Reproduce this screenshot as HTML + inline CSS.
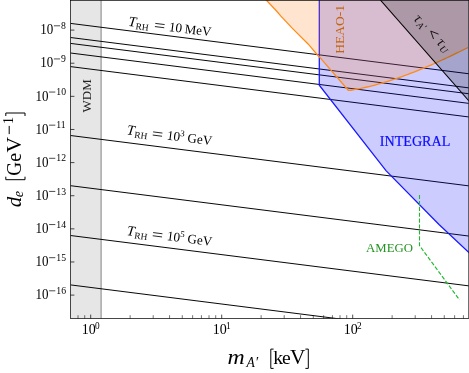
<!DOCTYPE html>
<html><head><meta charset="utf-8"><title>plot</title>
<style>
html,body{margin:0;padding:0;background:#fff;}
svg{display:block;}
text{font-family:"Liberation Serif",serif;}
.i{font-style:italic;}
</style></head><body>
<svg width="469" height="373" viewBox="0 0 469 373">
<rect x="0" y="0" width="469" height="373" fill="#fff"/>
<g style="will-change:transform">
<defs><clipPath id="c"><rect x="70.5" y="0.35" width="398.3" height="318.15"/></clipPath></defs>
<g clip-path="url(#c)">
<rect x="70.5" y="0.35" width="30.599999999999994" height="318.15" fill="#e6e6e6"/>
<line x1="101.1" y1="0.35" x2="101.1" y2="318.5" stroke="#b0b0b0" stroke-width="1.7"/>
<line x1="70.5" y1="23.4" x2="468.8" y2="73.76" stroke="#000" stroke-width="0.98"/>
<line x1="70.5" y1="37.5" x2="468.8" y2="87.86" stroke="#000" stroke-width="0.98"/>
<line x1="70.5" y1="43.4" x2="468.8" y2="93.76" stroke="#000" stroke-width="0.98"/>
<line x1="70.5" y1="53.0" x2="468.8" y2="103.36" stroke="#000" stroke-width="0.98"/>
<line x1="70.5" y1="66.6" x2="468.8" y2="116.96" stroke="#000" stroke-width="0.98"/>
<line x1="70.5" y1="135.5" x2="468.8" y2="185.86" stroke="#000" stroke-width="0.98"/>
<line x1="70.5" y1="185.7" x2="468.8" y2="236.06" stroke="#000" stroke-width="0.98"/>
<line x1="70.5" y1="235.5" x2="468.8" y2="285.86" stroke="#000" stroke-width="0.98"/>
<line x1="70.5" y1="284.9" x2="468.8" y2="335.26" stroke="#000" stroke-width="0.98"/>
<polygon points="319.3,-2 319.3,85.2 386,170.6 439,224.5 470,253.5 470,-2" fill="rgb(0,0,255)" fill-opacity="0.2"/>
<polyline points="319.3,-2 319.3,85.2 386,170.6 439,224.5 470,253.5" fill="none" stroke="#1a1aff" stroke-width="1.3"/>
<polygon points="265.2,-1 266.2,0 276.1,10.5 280.9,16.1 292.2,28.1 308.3,44.2 317.9,55.5 319.4,56.9 348.3,90.3 351.0,90.24 354.0,89.72 357.0,89.16 360.0,88.56 363.0,87.93 366.0,87.25 369.0,86.55 372.0,85.8 375.0,85.02 378.0,84.21 381.0,83.36 384.0,82.48 387.0,81.57 390.0,80.63 393.0,79.66 396.0,78.65 399.0,77.62 402.0,76.56 405.0,75.47 408.0,74.36 411.0,73.22 414.0,72.05 417.0,70.86 420.0,69.64 423.0,68.41 426.0,67.15 429.0,65.86 432.0,64.56 435.0,63.24 438.0,61.89 441.0,60.53 444.0,59.15 447.0,57.75 450.0,56.34 453.0,54.91 456.0,53.46 459.0,52.0 462.0,50.53 465.0,49.04 468.0,47.54 470,-2" fill="rgb(255,127,14)" fill-opacity="0.2"/>
<polyline points="265.2,-1 266.2,0 276.1,10.5 280.9,16.1 292.2,28.1 308.3,44.2 317.9,55.5 319.4,56.9 348.3,90.3 351.0,90.24 354.0,89.72 357.0,89.16 360.0,88.56 363.0,87.93 366.0,87.25 369.0,86.55 372.0,85.8 375.0,85.02 378.0,84.21 381.0,83.36 384.0,82.48 387.0,81.57 390.0,80.63 393.0,79.66 396.0,78.65 399.0,77.62 402.0,76.56 405.0,75.47 408.0,74.36 411.0,73.22 414.0,72.05 417.0,70.86 420.0,69.64 423.0,68.41 426.0,67.15 429.0,65.86 432.0,64.56 435.0,63.24 438.0,61.89 441.0,60.53 444.0,59.15 447.0,57.75 450.0,56.34 453.0,54.91 456.0,53.46 459.0,52.0 462.0,50.53 465.0,49.04 468.0,47.54" fill="none" stroke="#ff8c1a" stroke-width="1.3"/>
<polygon points="380.3,0 470,102.1 470,-2" fill="#000" fill-opacity="0.2"/>
<line x1="380.3" y1="0" x2="470" y2="102.1" stroke="#000" stroke-width="1.1"/>
<polyline points="419.5,195 419.5,245.6 459.6,300" fill="none" stroke="#1eb92c" stroke-width="1.1" stroke-dasharray="4.1,1.8"/>
</g>
<line x1="70.5" y1="295.10" x2="74.4" y2="295.10" stroke="#000" stroke-width="0.7"/>
<text x="56.30" y="293.90" font-size="9.7">16</text>
<line x1="49.10" y1="290.80" x2="55.30" y2="290.80" stroke="#000" stroke-width="0.7"/>
<text x="35.40" y="299.30" font-size="14" textLength="13.0" lengthAdjust="spacingAndGlyphs">10</text>
<line x1="70.5" y1="261.98" x2="74.4" y2="261.98" stroke="#000" stroke-width="0.7"/>
<text x="56.30" y="260.78" font-size="9.7">15</text>
<line x1="49.10" y1="257.68" x2="55.30" y2="257.68" stroke="#000" stroke-width="0.7"/>
<text x="35.40" y="266.18" font-size="14" textLength="13.0" lengthAdjust="spacingAndGlyphs">10</text>
<line x1="70.5" y1="228.85" x2="74.4" y2="228.85" stroke="#000" stroke-width="0.7"/>
<text x="56.30" y="227.65" font-size="9.7">14</text>
<line x1="49.10" y1="224.55" x2="55.30" y2="224.55" stroke="#000" stroke-width="0.7"/>
<text x="35.40" y="233.05" font-size="14" textLength="13.0" lengthAdjust="spacingAndGlyphs">10</text>
<line x1="70.5" y1="195.72" x2="74.4" y2="195.72" stroke="#000" stroke-width="0.7"/>
<text x="56.30" y="194.53" font-size="9.7">13</text>
<line x1="49.10" y1="191.42" x2="55.30" y2="191.42" stroke="#000" stroke-width="0.7"/>
<text x="35.40" y="199.92" font-size="14" textLength="13.0" lengthAdjust="spacingAndGlyphs">10</text>
<line x1="70.5" y1="162.60" x2="74.4" y2="162.60" stroke="#000" stroke-width="0.7"/>
<text x="56.30" y="161.40" font-size="9.7">12</text>
<line x1="49.10" y1="158.30" x2="55.30" y2="158.30" stroke="#000" stroke-width="0.7"/>
<text x="35.40" y="166.80" font-size="14" textLength="13.0" lengthAdjust="spacingAndGlyphs">10</text>
<line x1="70.5" y1="129.47" x2="74.4" y2="129.47" stroke="#000" stroke-width="0.7"/>
<text x="56.30" y="128.28" font-size="9.7">11</text>
<line x1="49.10" y1="125.17" x2="55.30" y2="125.17" stroke="#000" stroke-width="0.7"/>
<text x="35.40" y="133.67" font-size="14" textLength="13.0" lengthAdjust="spacingAndGlyphs">10</text>
<line x1="70.5" y1="96.35" x2="74.4" y2="96.35" stroke="#000" stroke-width="0.7"/>
<text x="56.30" y="95.15" font-size="9.7">10</text>
<line x1="49.10" y1="92.05" x2="55.30" y2="92.05" stroke="#000" stroke-width="0.7"/>
<text x="35.40" y="100.55" font-size="14" textLength="13.0" lengthAdjust="spacingAndGlyphs">10</text>
<line x1="70.5" y1="63.23" x2="74.4" y2="63.23" stroke="#000" stroke-width="0.7"/>
<text x="61.10" y="62.02" font-size="9.7">9</text>
<line x1="53.90" y1="58.93" x2="60.10" y2="58.93" stroke="#000" stroke-width="0.7"/>
<text x="40.20" y="67.42" font-size="14" textLength="13.0" lengthAdjust="spacingAndGlyphs">10</text>
<line x1="70.5" y1="30.10" x2="74.4" y2="30.10" stroke="#000" stroke-width="0.7"/>
<text x="61.10" y="28.90" font-size="9.7">8</text>
<line x1="53.90" y1="25.80" x2="60.10" y2="25.80" stroke="#000" stroke-width="0.7"/>
<text x="40.20" y="34.30" font-size="14" textLength="13.0" lengthAdjust="spacingAndGlyphs">10</text>
<line x1="78.00" y1="318.5" x2="78.00" y2="315.2" stroke="#000" stroke-width="0.55"/>
<line x1="84.71" y1="318.5" x2="84.71" y2="315.2" stroke="#000" stroke-width="0.55"/>
<line x1="90.70" y1="318.5" x2="90.70" y2="314.6" stroke="#000" stroke-width="0.7"/>
<line x1="130.13" y1="318.5" x2="130.13" y2="315.2" stroke="#000" stroke-width="0.55"/>
<line x1="153.20" y1="318.5" x2="153.20" y2="315.2" stroke="#000" stroke-width="0.55"/>
<line x1="169.57" y1="318.5" x2="169.57" y2="315.2" stroke="#000" stroke-width="0.55"/>
<line x1="182.27" y1="318.5" x2="182.27" y2="315.2" stroke="#000" stroke-width="0.55"/>
<line x1="192.64" y1="318.5" x2="192.64" y2="315.2" stroke="#000" stroke-width="0.55"/>
<line x1="201.41" y1="318.5" x2="201.41" y2="315.2" stroke="#000" stroke-width="0.55"/>
<line x1="209.00" y1="318.5" x2="209.00" y2="315.2" stroke="#000" stroke-width="0.55"/>
<line x1="215.71" y1="318.5" x2="215.71" y2="315.2" stroke="#000" stroke-width="0.55"/>
<text x="81.70" y="334.2" font-size="14">10</text>
<text x="94.90" y="328.6" font-size="9.3">0</text>
<line x1="221.70" y1="318.5" x2="221.70" y2="314.6" stroke="#000" stroke-width="0.7"/>
<line x1="261.13" y1="318.5" x2="261.13" y2="315.2" stroke="#000" stroke-width="0.55"/>
<line x1="284.20" y1="318.5" x2="284.20" y2="315.2" stroke="#000" stroke-width="0.55"/>
<line x1="300.57" y1="318.5" x2="300.57" y2="315.2" stroke="#000" stroke-width="0.55"/>
<line x1="313.27" y1="318.5" x2="313.27" y2="315.2" stroke="#000" stroke-width="0.55"/>
<line x1="323.64" y1="318.5" x2="323.64" y2="315.2" stroke="#000" stroke-width="0.55"/>
<line x1="332.41" y1="318.5" x2="332.41" y2="315.2" stroke="#000" stroke-width="0.55"/>
<line x1="340.00" y1="318.5" x2="340.00" y2="315.2" stroke="#000" stroke-width="0.55"/>
<line x1="346.71" y1="318.5" x2="346.71" y2="315.2" stroke="#000" stroke-width="0.55"/>
<text x="212.70" y="334.2" font-size="14">10</text>
<text x="225.90" y="328.6" font-size="9.3">1</text>
<line x1="352.70" y1="318.5" x2="352.70" y2="314.6" stroke="#000" stroke-width="0.7"/>
<line x1="392.13" y1="318.5" x2="392.13" y2="315.2" stroke="#000" stroke-width="0.55"/>
<line x1="415.20" y1="318.5" x2="415.20" y2="315.2" stroke="#000" stroke-width="0.55"/>
<line x1="431.57" y1="318.5" x2="431.57" y2="315.2" stroke="#000" stroke-width="0.55"/>
<line x1="444.27" y1="318.5" x2="444.27" y2="315.2" stroke="#000" stroke-width="0.55"/>
<line x1="454.64" y1="318.5" x2="454.64" y2="315.2" stroke="#000" stroke-width="0.55"/>
<line x1="463.41" y1="318.5" x2="463.41" y2="315.2" stroke="#000" stroke-width="0.55"/>
<text x="343.70" y="334.2" font-size="14">10</text>
<text x="356.90" y="328.6" font-size="9.3">2</text>
<rect x="70.5" y="0.35" width="398.3" height="318.15" fill="none" stroke="#000" stroke-width="0.72"/>
<g transform="translate(128.2,25.8) rotate(7.21)"><text x="-0.3" y="0" font-size="14" class="i">T</text><text x="7.5" y="2.5" font-size="9.4">RH</text><line x1="26.6" y1="-2.6" x2="36.0" y2="-2.6" stroke="#000" stroke-width="0.8"/><line x1="26.6" y1="-5.8" x2="36.0" y2="-5.8" stroke="#000" stroke-width="0.8"/><text x="40.6" y="0" font-size="13.2">10</text><text x="56.6" y="0" font-size="13.0">MeV</text></g>
<g transform="translate(126.8,134.4) rotate(7.21)"><text x="-0.3" y="0" font-size="14" class="i">T</text><text x="7.5" y="2.5" font-size="9.4">RH</text><line x1="25.8" y1="-2.6" x2="35.2" y2="-2.6" stroke="#000" stroke-width="0.8"/><line x1="25.8" y1="-5.8" x2="35.2" y2="-5.8" stroke="#000" stroke-width="0.8"/><text x="40.0" y="0" font-size="13.2">10</text><text x="53.0" y="-5.0" font-size="8.8">3</text><text x="60.8" y="0" font-size="13.1">GeV</text></g>
<g transform="translate(126.8,235.1) rotate(7.21)"><text x="-0.3" y="0" font-size="14" class="i">T</text><text x="7.5" y="2.5" font-size="9.4">RH</text><line x1="25.8" y1="-2.6" x2="35.2" y2="-2.6" stroke="#000" stroke-width="0.8"/><line x1="25.8" y1="-5.8" x2="35.2" y2="-5.8" stroke="#000" stroke-width="0.8"/><text x="40.0" y="0" font-size="13.2">10</text><text x="53.0" y="-5.0" font-size="8.8">5</text><text x="60.8" y="0" font-size="13.1">GeV</text></g>
<text transform="translate(91.4,112.4) rotate(-90)" font-size="13" fill="#222">WDM</text>
<text transform="translate(343.9,53.7) rotate(-90)" font-size="13.5" fill="#c4640f">HEAO-1</text>
<text x="379.8" y="146.3" font-size="14.1" fill="#0c0cff" stroke="#0c0cff" stroke-width="0.2">INTEGRAL</text>
<text x="366.1" y="252.3" font-size="12.8" fill="#229422">AMEGO</text>
<g transform="translate(413.0,19.6) rotate(46.0)" fill="#111"><text x="0" y="0" font-size="15" class="i">τ</text><text x="6.3" y="2.0" font-size="9.6" class="i">A</text><text x="12.3" y="0.8" font-size="10" class="i">′</text><path d="M28.2,-8.3 L20.6,-4.8 L28.2,-1.3" fill="none" stroke="#111" stroke-width="0.9"/><text x="33.0" y="0" font-size="15" class="i">τ</text><text x="39.3" y="2.0" font-size="9.6" class="i">U</text></g>
<g transform="translate(0,363.9)"><text x="227.6" y="0" font-size="21.5" class="i" textLength="17.2" lengthAdjust="spacingAndGlyphs">m</text><text x="246.6" y="2.9" font-size="13.6" class="i">A</text><text x="255.0" y="2.6" font-size="14.5" class="i">′</text><path d="M273.6,-14.8 H270.8 V4.5 H273.6" fill="none" stroke="#000" stroke-width="1"/><text x="273.2" y="0" font-size="19.6">k</text><text x="282.0" y="0" font-size="19.6">e</text><text x="290.0" y="0" font-size="21.3">V</text><path d="M305.4,-14.8 H308.3 V4.5 H305.4" fill="none" stroke="#000" stroke-width="1"/></g>
<g transform="translate(20.5,207) rotate(-90)"><text x="-0.3" y="0" font-size="21" class="i">d</text><text x="9.8" y="2.9" font-size="14.2" class="i">e</text><path d="M30.3,-14.7 H27.3 V4.5 H30.3" fill="none" stroke="#000" stroke-width="1"/><text x="31.2" y="0" font-size="20.4" textLength="13.8" lengthAdjust="spacingAndGlyphs">G</text><text x="45.3" y="0" font-size="20">e</text><text x="54.4" y="0" font-size="21.4">V</text><line x1="72.9" y1="-11.3" x2="81.1" y2="-11.3" stroke="#000" stroke-width="1"/><text x="83.0" y="-7.3" font-size="14">1</text><path d="M91.0,-14.7 H94.0 V4.5 H91.0" fill="none" stroke="#000" stroke-width="1"/></g>
</g></svg></body></html>
